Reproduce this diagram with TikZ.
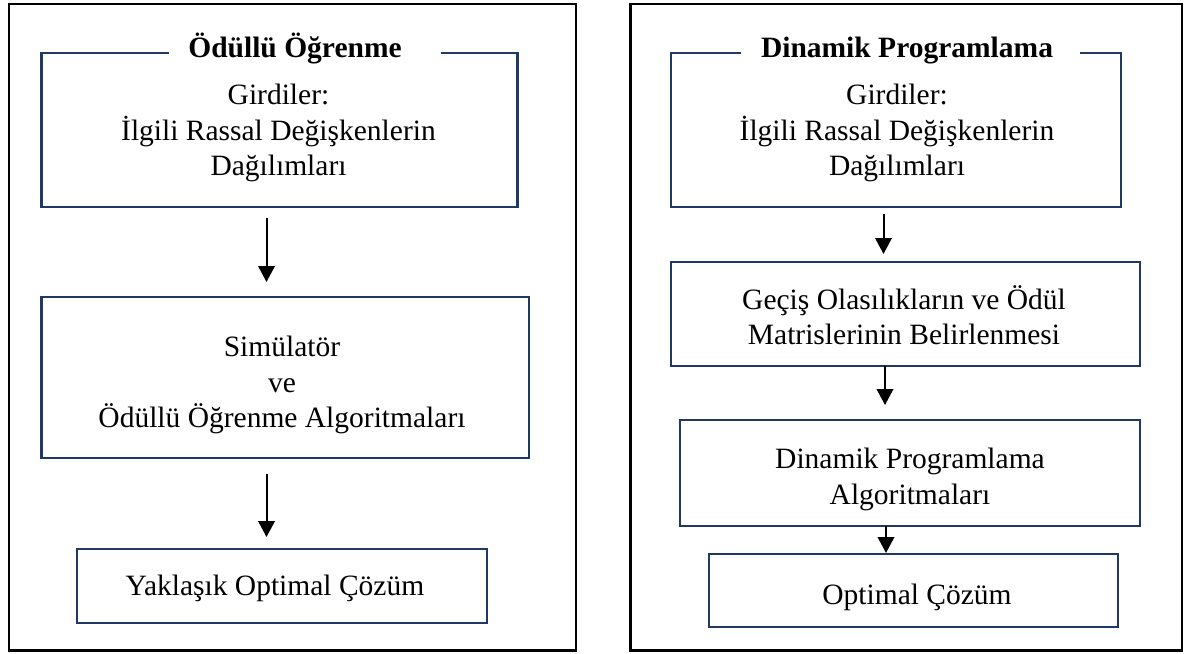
\documentclass[tikz,border=0pt]{standalone}
\usepackage{fontspec}
\setmainfont{Liberation Serif}
\usetikzlibrary{arrows.meta}
\definecolor{boxnavy}{RGB}{31,56,100}
\tikzset{
  panel/.style={draw=black, line width=2.2pt, rectangle, inner sep=0pt, outer sep=0pt},
  stepbox/.style={draw=boxnavy, line width=2.2pt, rectangle, inner sep=0pt, outer sep=0pt},
  openbox/.style={rectangle, inner sep=0pt, outer sep=0pt},
  boxline/.style={draw=boxnavy, line width=2.2pt},
  txt/.style={align=center, inner sep=0pt},
  paneltitle/.style={inner sep=0pt, font=\fontsize{29.5}{35.5}\selectfont\bfseries},
  flow/.style={draw=black, line width=2pt, -{Triangle[width=16.5pt,length=16pt]}}
}
\begin{document}
\begin{tikzpicture}[x=1pt, y=-1pt, font=\fontsize{29.5}{35.5}\selectfont]
\useasboundingbox (0,0) rectangle (1188,653);

% outer frames
\node[panel, minimum width=567pt, minimum height=646.5pt] (panelL) at (292.5,327.25) {};
\node[panel, minimum width=551.5pt, minimum height=646.5pt] (panelR) at (906.25,327.25) {};

% ---------- left column: reinforcement learning ----------
\node[openbox, minimum width=476pt, minimum height=154pt] (l1) at (279.5,130) {};
\node[paneltitle] (lt) at (295,49.9) {\strut Ödüllü Öğrenme};
\draw[boxline] ([xshift=-19pt]lt.west |- l1.north) -- (l1.north west) |- (l1.south east)
  |- ([xshift=39pt]lt.east |- l1.north);
\node[txt] (l1t) at (278.5,132.9) {\strut Girdiler:\\İlgili Rassal Değişkenlerin\\Dağılımları\strut};

\node[stepbox, minimum width=487.5pt, minimum height=161pt] (l2) at (285.25,377.5) {};
\node[txt] (l2t) at (282,384.9) {\strut Simülatör\\ve\\Ödüllü Öğrenme Algoritmaları\strut};

\node[stepbox, minimum width=410pt, minimum height=74pt] (l3) at (282,586) {};
\node[txt] (l3t) at (275,587.9) {\strut Yaklaşık Optimal Çözüm\strut};

\draw[flow] ([xshift=-13pt,yshift=-11pt]l1.south) -- ([xshift=-18.75pt,yshift=15pt]l2.north);
\draw[flow] ([xshift=-18.75pt,yshift=-16pt]l2.south) -- ([xshift=-15.5pt,yshift=12pt]l3.north);

% ---------- right column: dynamic programming ----------
\node[openbox, minimum width=450pt, minimum height=154pt] (r1) at (896,130) {};
\node[paneltitle] (rt) at (907,49.9) {\strut Dinamik Programlama};
\draw[boxline] ([xshift=-20pt]rt.west |- r1.north) -- (r1.north west) |- (r1.south east)
  |- ([xshift=27pt]rt.east |- r1.north);
\node[txt] (r1t) at (897,132.9) {\strut Girdiler:\\İlgili Rassal Değişkenlerin\\Dağılımları\strut};

\node[stepbox, minimum width=469pt, minimum height=104pt] (r2) at (905.5,314) {};
\node[txt] (r2t) at (904,319.9) {\strut Geçiş Olasılıkların ve Ödül\\Matrislerinin Belirlenmesi\strut};

\node[stepbox, minimum width=460pt, minimum height=106pt] (r3) at (910,473) {};
\node[txt] (r3t) at (910,479.4) {\strut Dinamik Programlama\\Algoritmaları\strut};

\node[stepbox, minimum width=409pt, minimum height=73pt] (r4) at (913.5,590.5) {};
\node[txt] (r4t) at (917,596.9) {\strut Optimal Çözüm\strut};

\draw[flow] ([xshift=-12.5pt,yshift=-7pt]r1.south) -- ([xshift=-22pt,yshift=8pt]r2.north);
\draw[flow] ([xshift=-20.5pt]r2.south) -- ([xshift=-25pt,yshift=15pt]r3.north);
\draw[flow] ([xshift=-24pt]r3.south) -- ([xshift=-27.5pt,yshift=1pt]r4.north);
\end{tikzpicture}
\end{document}
